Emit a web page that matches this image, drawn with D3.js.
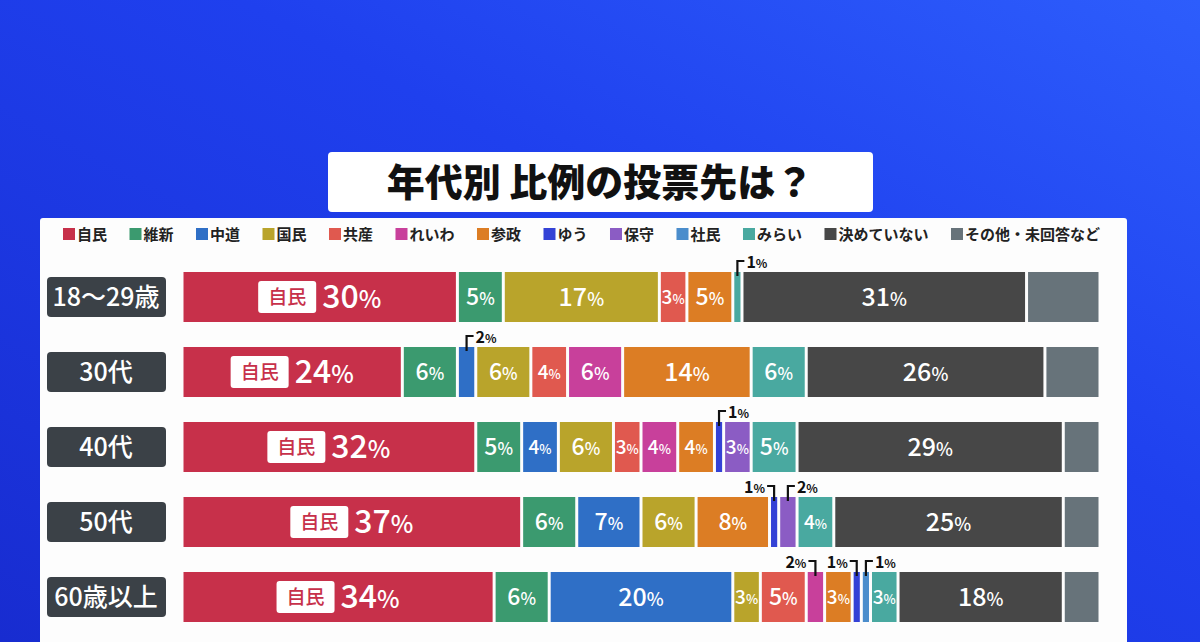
<!DOCTYPE html>
<meta charset="utf-8">
<script src="https://d3js.org/d3.v7.min.js"></script>
<style>
  body { margin: 0; }
  svg { display: block; font-family: "Noto Sans CJK JP", "Noto Sans", sans-serif; font-weight: 700; }
</style>
<div id="chart"></div>
<script>
// parties in legend / stacking order
var parties = ["自民", "維新", "中道", "国民", "共産", "れいわ", "参政", "ゆう", "保守", "社民", "みらい", "決めていない", "その他・未回答など"];
var partyColors = ["#c7304a", "#3b9a6f", "#2f6fc6", "#b9a42b", "#e0594f", "#c8409b", "#dc7d24", "#3442d6", "#8b5cc4", "#4b8dcc", "#49a9a0", "#474747", "#67737a"];

var ages = ["18〜29歳", "30代", "40代", "50代", "60歳以上"];

// share (%) per age group, same order as parties
var v1829 = [30, 5, 0, 17, 3, 0, 5, 0, 0, 0, 1, 31, 8];
var v30 = [24, 6, 2, 6, 4, 6, 14, 0, 0, 0, 6, 26, 6];
var v40 = [32, 5, 4, 6, 3, 4, 4, 1, 3, 0, 5, 29, 4];
var v50 = [37, 6, 7, 6, 0, 0, 8, 1, 2, 0, 4, 25, 4];
var v60 = [34, 6, 20, 3, 5, 2, 3, 1, 0, 1, 3, 18, 4];
var values = [v1829, v30, v40, v50, v60];

var W = 1200, H = 642;
var svg = d3.select("#chart").append("svg").attr("width", W).attr("height", H);

// background
var defs = svg.append("defs");
var grad = defs.append("linearGradient").attr("id", "bg")
  .attr("x1", "100%").attr("y1", "0%").attr("x2", "0%").attr("y2", "100%");
grad.append("stop").attr("offset", "0%").attr("stop-color", "#2d5dfc");
grad.append("stop").attr("offset", "40%").attr("stop-color", "#1f40ee");
grad.append("stop").attr("offset", "100%").attr("stop-color", "#182cd0");
svg.append("rect").attr("width", W).attr("height", H).attr("fill", "url(#bg)");

// white panel
svg.append("rect").attr("x", 40).attr("y", 218).attr("width", 1087).attr("height", 440)
  .attr("rx", 3).attr("fill", "#fdfdfd");

// title box
svg.append("rect").attr("x", 328).attr("y", 152).attr("width", 545).attr("height", 60)
  .attr("rx", 4).attr("fill", "#ffffff");
svg.append("text").attr("x", 600).attr("y", 196).attr("text-anchor", "middle")
  .attr("font-size", 38).attr("font-weight", 900).attr("fill", "#111")
  .text("年代別 比例の投票先は？");

// legend
var legend = svg.append("g");
var lx = 63, ly = 234, gap = 17;
var items = [];
parties.forEach(function(p, i) {
  var g = legend.append("g");
  g.append("rect").attr("x", 0).attr("y", -6).attr("width", 12).attr("height", 12)
    .attr("fill", partyColors[i]);
  var t = g.append("text").attr("x", 14).attr("y", 6).attr("font-size", 15)
    .attr("fill", "#222").text(p);
  items.push({g: g, w: 14 + t.node().getComputedTextLength()});
});
var totalW = d3.sum(items, function(d) { return d.w; });
gap = (1100 - lx - totalW) / (items.length - 1);
var cx = lx;
items.forEach(function(d) {
  d.g.attr("transform", "translate(" + cx + "," + ly + ")");
  cx += d.w + gap;
});

// scales
var x = d3.scaleLinear().domain([0, 100]).range([182, 1100]);
var y = d3.scaleBand().domain(ages).range([272, 622]).paddingInner(1 / 3);

// row labels
var rows = svg.selectAll(".row").data(ages).enter().append("g").attr("class", "row");
rows.append("rect")
  .attr("x", 47).attr("y", function(d) { return y(d) + y.bandwidth() / 2 - 20; })
  .attr("width", 119).attr("height", 40).attr("rx", 4).attr("fill", "#3b4147");
rows.append("text")
  .attr("x", 106).attr("y", function(d) { return y(d) + y.bandwidth() / 2 + 9; })
  .attr("text-anchor", "middle").attr("font-size", 25).attr("font-weight", 500).attr("fill", "#fff")
  .text(function(d) { return d; });

// stacked segments
function pctText(sel, v, size, pctSize) {
  sel.append("tspan").attr("font-size", size).text(v);
  sel.append("tspan").attr("font-size", pctSize).text("%");
}

ages.forEach(function(age, r) {
  var vals = values[r];
  var top = y(age), bh = y.bandwidth(), mid = top + bh / 2;
  var acc = 0;
  var segs = [];
  vals.forEach(function(v, i) {
    if (v > 0) segs.push({party: i, v: v, x0: acc, x1: acc + v});
    acc += v;
  });
  var g = svg.append("g");
  g.selectAll("rect").data(segs).enter().append("rect")
    .attr("x", function(d) { return x(d.x0) + 1.5; })
    .attr("y", top)
    .attr("width", function(d) { return Math.max(x(d.x1) - x(d.x0) - 3, 2); })
    .attr("height", bh)
    .attr("fill", function(d) { return partyColors[d.party]; });

  var small = segs.filter(function(d) { return d.v <= 2 && d.party < 12; });
  segs.forEach(function(d) {
    var c = (x(d.x0) + x(d.x1)) / 2;
    if (d.party === 12) return;
    if (d.party === 0) {
      // 自民 label with badge
      var lg = g.append("g");
      var t = lg.append("text").attr("y", mid + 11).attr("fill", "#fff").attr("font-weight", 500);
      pctText(t, d.v, 32, 24);
      var tw = t.node().getComputedTextLength();
      var bw = 58, total = bw + 6 + tw, s = c - total / 2;
      lg.append("rect").attr("x", s).attr("y", mid - 16).attr("width", bw).attr("height", 32)
        .attr("rx", 3).attr("fill", "#fff");
      lg.append("text").attr("x", s + bw / 2).attr("y", mid + 7).attr("text-anchor", "middle")
        .attr("font-size", 19).attr("font-weight", 500).attr("fill", partyColors[0]).text("自民");
      t.attr("x", s + bw + 6);
      return;
    }
    if (d.v <= 2) {
      // callout above the bar
      var idx = small.indexOf(d);
      var dir = idx === small.length - 1 ? 1 : -1;
      g.append("path")
        .attr("d", "M" + c + "," + (top + 4) + "V" + (top - 11) + "H" + (c + dir * 7))
        .attr("fill", "none").attr("stroke", "#111").attr("stroke-width", 2.2);
      var ct = g.append("text").attr("x", c + dir * 9).attr("y", top - 4)
        .attr("text-anchor", dir > 0 ? "start" : "end").attr("fill", "#111");
      pctText(ct, d.v, 16, 12);
      return;
    }
    var size = d.v >= 14 ? 25 : d.v >= 5 ? 23 : 19;
    var psize = d.v >= 5 ? size * 0.72 : 13;
    var tt = g.append("text").attr("x", c).attr("y", mid + size * 0.36)
      .attr("text-anchor", "middle").attr("fill", "#fff").attr("font-weight", 500);
    pctText(tt, d.v, size, psize);
  });
});
</script>
